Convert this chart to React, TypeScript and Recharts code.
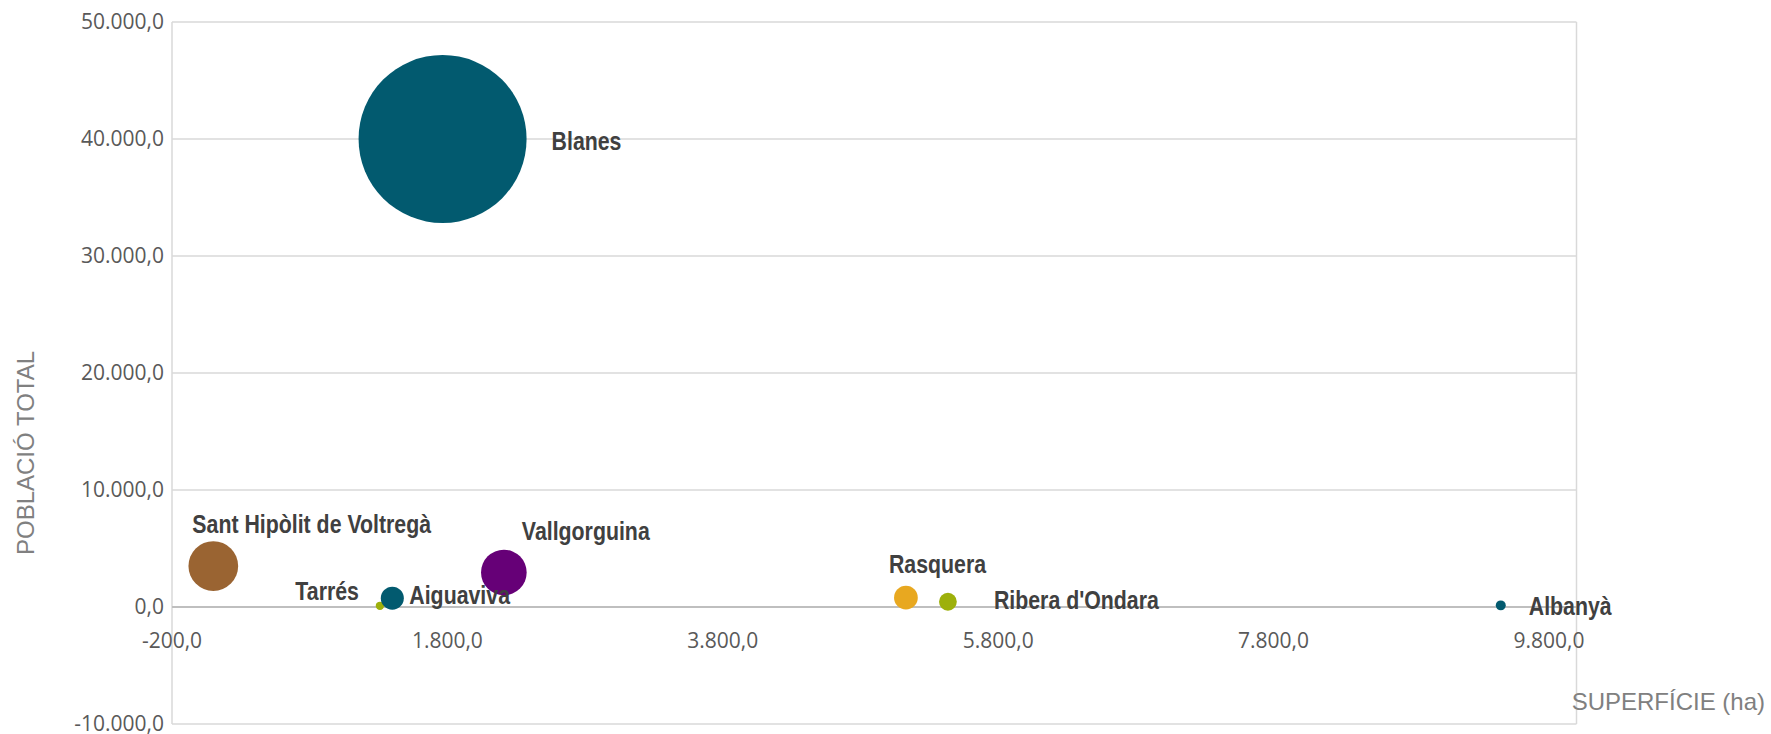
import React from 'react';
import {
  ScatterChart,
  Scatter,
  XAxis,
  YAxis,
  ZAxis,
  CartesianGrid,
  ReferenceLine,
  ReferenceDot,
} from 'recharts';

// ---- data ----
const NAMES = [
  'Blanes',
  'Sant Hipòlit de Voltregà',
  'Tarrés',
  'Aiguaviva',
  'Vallgorguina',
  'Rasquera',
  "Ribera d'Ondara",
  'Albanyà',
];
const SUPERFICIE = [1765, 100, 1310, 1400, 2210, 5130, 5435, 9450];
const POBLACIO = [40000, 3500, 100, 750, 2950, 800, 450, 140];

const X_TICKS = [-200, 1800, 3800, 5800, 7800, 9800];
const X_MAX = 10000;
const Y_TICKS = [-10000, 0, 10000, 20000, 30000, 40000, 50000];

const X_TITLE = 'SUPERFÍCIE (ha)';
const Y_TITLE = 'POBLACIÓ TOTAL';

// ---- styles ----
const COLORS = ['#025A6F', '#9A6432', '#9DB00B', '#025A6F', '#660077', '#E8A820', '#9DB00B', '#025A6F'];
const LABEL_OFFSETS: { dx: number; dy: number; anchor: 'start' | 'end' }[] = [
  { dx: 109, dy: 2, anchor: 'start' },
  { dx: -21, dy: -42, anchor: 'start' },
  { dx: -21, dy: -15, anchor: 'end' },
  { dx: 17, dy: -4, anchor: 'start' },
  { dx: 18, dy: -42, anchor: 'start' },
  { dx: -17, dy: -34, anchor: 'start' },
  { dx: 46, dy: -2, anchor: 'start' },
  { dx: 28, dy: 0, anchor: 'start' },
];
const MAX_R = 84;
const TICK_FONT = "'Open Sans', 'DejaVu Sans', sans-serif";
const LABEL_FONT = "'Liberation Sans', Arial, sans-serif";
const NARROW = 0.82;

const fmt = (v: number) => {
  const neg = v < 0;
  const [i, d] = Math.abs(v).toFixed(1).split('.');
  const ig = i.replace(/\B(?=(\d{3})+(?!\d))/g, '.');
  return (neg ? '-' : '') + ig + ',' + d;
};

const data = NAMES.map((name, i) => ({
  name,
  x: SUPERFICIE[i],
  y: POBLACIO[i],
  z: POBLACIO[i],
  idx: i,
}));

const radiusOf = (p: any) => {
  if (typeof p.size === 'number') return Math.sqrt(Math.max(p.size, 0) / Math.PI);
  return (p.width || 0) / 2;
};

const Bubble = (props: any) => {
  const { cx, cy, payload } = props;
  const r = radiusOf(props);
  return <circle cx={cx} cy={cy} r={r} fill={COLORS[payload.idx]} />;
};

const BubbleLabel = (props: any) => {
  const { cx, cy, payload } = props;
  const o = LABEL_OFFSETS[payload.idx];
  return (
    <text
      x={0}
      y={0}
      transform={`translate(${cx + o.dx} ${cy + o.dy}) scale(${NARROW} 1)`}
      textAnchor={o.anchor}
      dominantBaseline="central"
      fill="#404040"
      fontFamily={LABEL_FONT}
      fontWeight="bold"
      fontSize={26}
    >
      {payload.name}
    </text>
  );
};

export default function App() {
  return (
    <div style={{ position: 'absolute', left: 0, top: 0, width: 1771, height: 734, background: '#fff' }}>
      <ScatterChart
        width={1771}
        height={734}
        margin={{ top: 22, right: 194.5, bottom: 0, left: 0 }}
      >
        <CartesianGrid stroke="#d9d9d9" strokeWidth={1.5} />
        <XAxis
          type="number"
          dataKey="x"
          domain={[X_TICKS[0], X_MAX]}
          ticks={[...X_TICKS, X_MAX]}
          tick={false}
          tickLine={false}
          axisLine={false}
          height={10}
        />
        <YAxis
          type="number"
          dataKey="y"
          domain={[Y_TICKS[0], Y_TICKS[Y_TICKS.length - 1]]}
          ticks={Y_TICKS}
          interval={0}
          tickFormatter={fmt}
          tick={{ fill: '#595959', fontSize: 21, fontFamily: TICK_FONT }}
          tickLine={false}
          axisLine={false}
          width={172}
        />
        <ZAxis type="number" dataKey="z" domain={[0, POBLACIO[0]]} range={[0, Math.PI * MAX_R * MAX_R]} />
        <ReferenceLine y={0} stroke="#bfbfbf" strokeWidth={2} />
        {X_TICKS.map((v) => (
          <ReferenceDot
            key={v}
            x={v}
            y={0}
            r={0}
            fill="none"
            stroke="none"
            label={{
              value: fmt(v),
              position: 'bottom',
              offset: 26,
              fill: '#595959',
              fontSize: 21,
              fontFamily: TICK_FONT,
            }}
          />
        ))}
        <Scatter data={data} shape={Bubble} isAnimationActive={false} />
        <Scatter data={data} shape={BubbleLabel} isAnimationActive={false} />
      </ScatterChart>
      <div
        style={{
          position: 'absolute',
          left: 26,
          top: 453,
          transform: 'translate(-50%, -50%) rotate(-90deg)',
          whiteSpace: 'nowrap',
          fontFamily: "'Liberation Sans', sans-serif",
          fontSize: 24,
          color: '#808080',
          lineHeight: 1,
        }}
      >
        {Y_TITLE}
      </div>
      <div
        style={{
          position: 'absolute',
          left: 1765,
          top: 702,
          transform: 'translate(-100%, -50%)',
          whiteSpace: 'nowrap',
          fontFamily: "'Liberation Sans', sans-serif",
          fontSize: 24,
          color: '#808080',
          lineHeight: 1,
        }}
      >
        {X_TITLE}
      </div>
    </div>
  );
}
